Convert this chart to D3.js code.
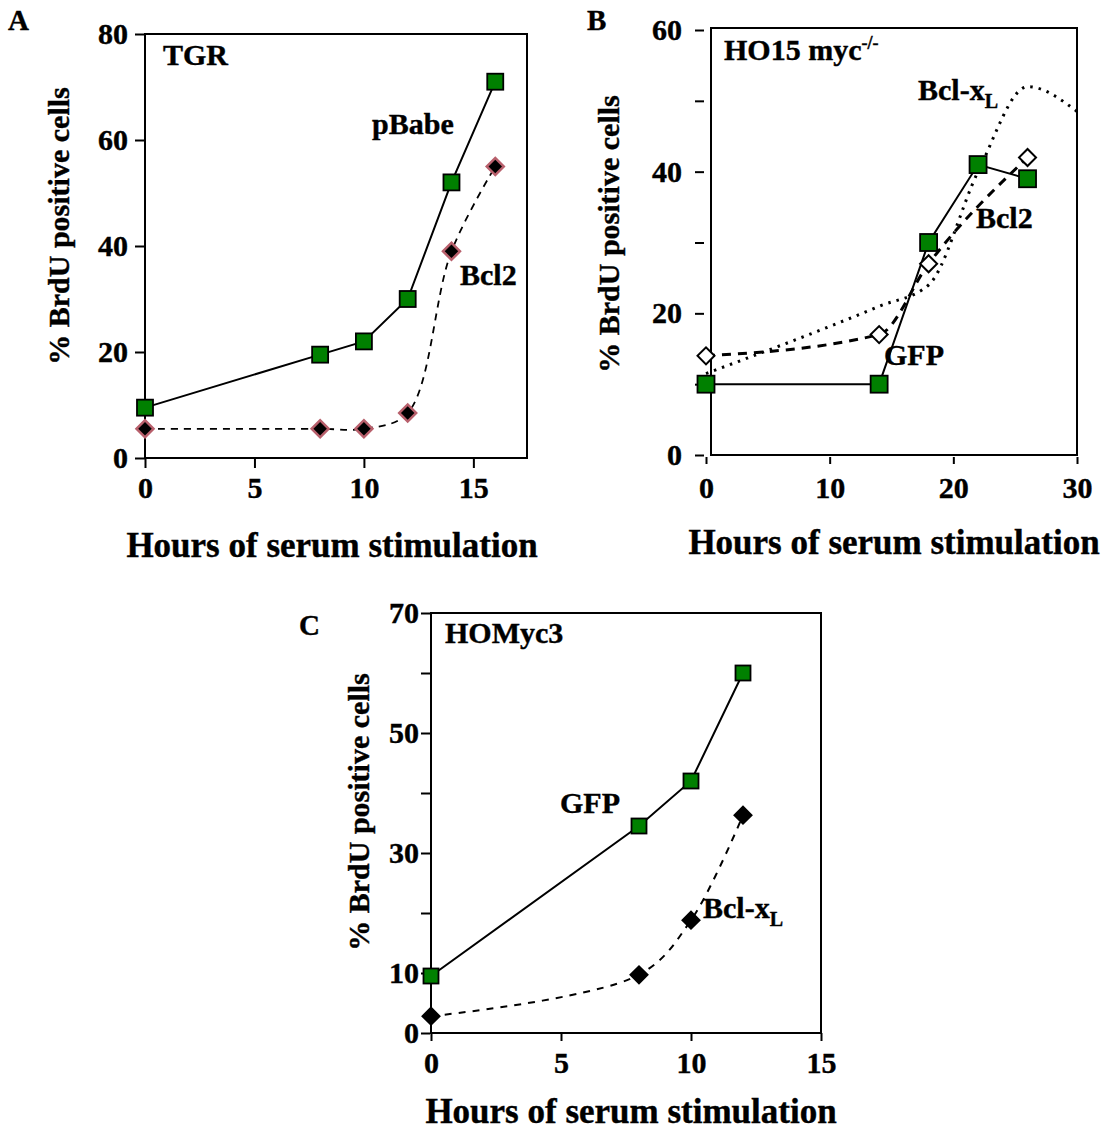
<!DOCTYPE html>
<html>
<head>
<meta charset="utf-8">
<script src="https://cdn.jsdelivr.net/npm/d3@7"></script>
<style>
  html, body { margin: 0; padding: 0; background: #fff; }
  svg text { font-family: "Liberation Serif", "Times New Roman", serif; font-weight: bold; fill: #000; stroke: #000; stroke-width: 0.4px; }
</style>
</head>
<body>
<svg id="fig" width="1113" height="1137"></svg>
<script>
// ---- data ----
// A: TGR
const hoursA = [0, 8, 10, 12, 14, 16];
const pBabeA = [9.5, 19.5, 22, 30, 52, 71];
const bcl2A = [5.5, 5.5, 5.5, 8.5, 39, 55];
const yTicksA = [0, 20, 40, 60, 80];
const xTicksA = [0, 5, 10, 15];

// B: HO15 myc-/-
const hoursGfpB = [0, 14, 18, 22, 26];
const gfpB = [10, 10, 30, 41, 39];
const hoursBcl2B = [0, 14, 18, 26];
const bcl2B = [14, 17, 27, 42];
const hoursBclxlB = [0, 14, 18, 22, 26, 30];
const bclxlB = [11.5, 21, 24, 40, 52, 48.5];
const yTicksB = [0, 10, 20, 30, 40, 50, 60];
const yLabelsB = [0, 20, 40, 60];
const xTicksB = [0, 10, 20, 30];

// C: HOMyc3
const hoursC = [0, 8, 10, 12];
const gfpC = [9.5, 34.5, 42, 60];
const bclxlC = [2.8, 9.7, 18.8, 36.3];
const yTicksC = [0, 10, 20, 30, 40, 50, 60, 70];
const yLabelsC = [0, 10, 30, 50, 70];
const xTicksC = [0, 5, 10, 15];

const GREEN = '#008000';
const svg = d3.select('#fig');

const zip = (xs, ys) => xs.map((h, i) => ({ h, v: ys[i] }));

function frame(g, x, y) {
  const [x0, x1] = x.range();
  g.append('rect')
    .attr('x', x0).attr('y', y.range()[1])
    .attr('width', x1 - x0).attr('height', y.range()[0] - y.range()[1])
    .attr('fill', 'none').attr('stroke', '#000').attr('stroke-width', 2);
}

function styleAxis(sel, size) {
  sel.select('.domain').remove();
  sel.selectAll('.tick line').attr('stroke', '#000').attr('stroke-width', 2);
  sel.selectAll('.tick text').attr('font-size', size).attr('fill', '#000');
}

function line(g, data, x, y, curve, width, dash) {
  g.append('path')
    .datum(data)
    .attr('fill', 'none')
    .attr('stroke', '#000')
    .attr('stroke-width', width)
    .attr('stroke-dasharray', dash)
    .attr('d', d3.line().x(d => x(d.h)).y(d => y(d.v)).curve(curve));
}

function squares(g, data, x, y, s) {
  g.selectAll(null).data(data).enter().append('rect')
    .attr('x', d => x(d.h) - s / 2).attr('y', d => y(d.v) - s / 2)
    .attr('width', s).attr('height', s)
    .attr('fill', GREEN).attr('stroke', '#000').attr('stroke-width', 1.8);
}

function diamonds(g, data, x, y, r, fill, stroke, sw) {
  const sym = d3.symbol().type(d3.symbolSquare).size(r * r * 2);
  g.selectAll(null).data(data).enter().append('path')
    .attr('d', sym)
    .attr('transform', d => `translate(${x(d.h)},${y(d.v)}) rotate(45)`)
    .attr('fill', fill).attr('stroke', stroke).attr('stroke-width', sw || 2);
}

function text(g, x, y, str, size, anchor) {
  return g.append('text').attr('x', x).attr('y', y)
    .attr('font-size', size).attr('text-anchor', anchor || 'start').text(str);
}

function yTitle(g, x, y) {
  g.append('text')
    .attr('transform', `translate(${x},${y}) rotate(-90)`)
    .attr('text-anchor', 'middle').attr('font-size', 30)
    .text('% BrdU positive cells');
}

// ---------- Panel A ----------
{
  const g = svg.append('g');
  const x = d3.scaleLinear().domain([0, 17.45]).range([145, 527]);
  const y = d3.scaleLinear().domain([0, 80]).range([458, 34]);
  frame(g, x, y);
  g.append('g').attr('transform', 'translate(145,0)')
    .call(d3.axisLeft(y).tickValues(yTicksA).tickSize(10).tickPadding(7))
    .call(s => styleAxis(s, 30));
  g.append('g').attr('transform', 'translate(0,459)')
    .call(d3.axisBottom(x).tickValues(xTicksA).tickSize(9).tickPadding(9))
    .call(s => styleAxis(s, 30));

  line(g, zip(hoursA, pBabeA), x, y, d3.curveLinear, 2, null);
  line(g, zip(hoursA, bcl2A), x, y, d3.curveCatmullRom.alpha(0.5), 1.8, '7,6');
  squares(g, zip(hoursA, pBabeA), x, y, 16);
  diamonds(g, zip(hoursA, bcl2A), x, y, 8.5, '#000', '#b8606c', 2.5);

  text(g, 8, 30, 'A', 29);
  text(g, 163, 65, 'TGR', 30);
  text(g, 372, 134, 'pBabe', 30);
  text(g, 460, 285, 'Bcl2', 30);
  yTitle(g, 69, 226);
  text(g, 332, 557, 'Hours of serum stimulation', 35, 'middle');
}

// ---------- Panel B ----------
{
  const g = svg.append('g');
  const x = d3.scaleLinear().domain([0, 30]).range([706, 1077]);
  const y = d3.scaleLinear().domain([0, 60]).range([455, 30]);
  g.append('rect').attr('x', 711).attr('y', 28).attr('width', 1077 - 711).attr('height', 455 - 28)
    .attr('fill', 'none').attr('stroke', '#000').attr('stroke-width', 2);
  g.append('g').attr('transform', 'translate(704,0)')
    .call(d3.axisLeft(y).tickValues(yTicksB).tickSize(9).tickPadding(13)
      .tickFormat(d => yLabelsB.includes(d) ? d : ''))
    .call(s => styleAxis(s, 30));
  g.append('g').attr('transform', 'translate(0,457)')
    .call(d3.axisBottom(x).tickValues(xTicksB).tickSize(7).tickPadding(13))
    .call(s => styleAxis(s, 30));

  line(g, zip(hoursBclxlB, bclxlB), x, y, d3.curveMonotoneX, 3, '2.5,6');
  line(g, zip(hoursBcl2B, bcl2B), x, y, d3.curveMonotoneX, 3, '9,7');
  line(g, zip(hoursGfpB, gfpB), x, y, d3.curveLinear, 2, null);
  diamonds(g, zip(hoursBcl2B, bcl2B), x, y, 8.5, '#fff', '#000');
  squares(g, zip(hoursGfpB, gfpB), x, y, 17);

  text(g, 587, 30, 'B', 29);
  const t = text(g, 724, 60, 'HO15 myc', 30);
  t.append('tspan').attr('font-size', 18).attr('dy', -11).text('-/-');
  const bx = text(g, 918, 100, 'Bcl-x', 30);
  bx.append('tspan').attr('font-size', 20).attr('dy', 8).text('L');
  text(g, 976, 228, 'Bcl2', 30);
  text(g, 884, 365, 'GFP', 30);
  yTitle(g, 619, 234);
  text(g, 894, 554, 'Hours of serum stimulation', 35, 'middle');
}

// ---------- Panel C ----------
{
  const g = svg.append('g');
  const x = d3.scaleLinear().domain([0, 15]).range([431, 821]);
  const y = d3.scaleLinear().domain([0, 70]).range([1033, 613]);
  frame(g, x, y);
  g.append('g').attr('transform', 'translate(430,0)')
    .call(d3.axisLeft(y).tickValues(yTicksC).tickSize(9).tickPadding(2)
      .tickFormat(d => yLabelsC.includes(d) ? d : ''))
    .call(s => styleAxis(s, 30));
  g.append('g').attr('transform', 'translate(0,1033)')
    .call(d3.axisBottom(x).tickValues(xTicksC).tickSize(8).tickPadding(11))
    .call(s => styleAxis(s, 30));

  line(g, zip(hoursC, gfpC), x, y, d3.curveLinear, 2, null);
  line(g, zip(hoursC, bclxlC), x, y, d3.curveCatmullRom.alpha(0.5), 2, '7,7');
  squares(g, zip(hoursC, gfpC), x, y, 15);
  diamonds(g, zip(hoursC, bclxlC), x, y, 8.5, '#000', '#000');

  text(g, 299, 635, 'C', 29);
  text(g, 445, 643, 'HOMyc3', 30);
  text(g, 560, 813, 'GFP', 30);
  const cx = text(g, 703, 918, 'Bcl-x', 30);
  cx.append('tspan').attr('font-size', 20).attr('dy', 8).text('L');
  yTitle(g, 369, 812);
  text(g, 631, 1123, 'Hours of serum stimulation', 35, 'middle');
}
</script>
</body>
</html>
